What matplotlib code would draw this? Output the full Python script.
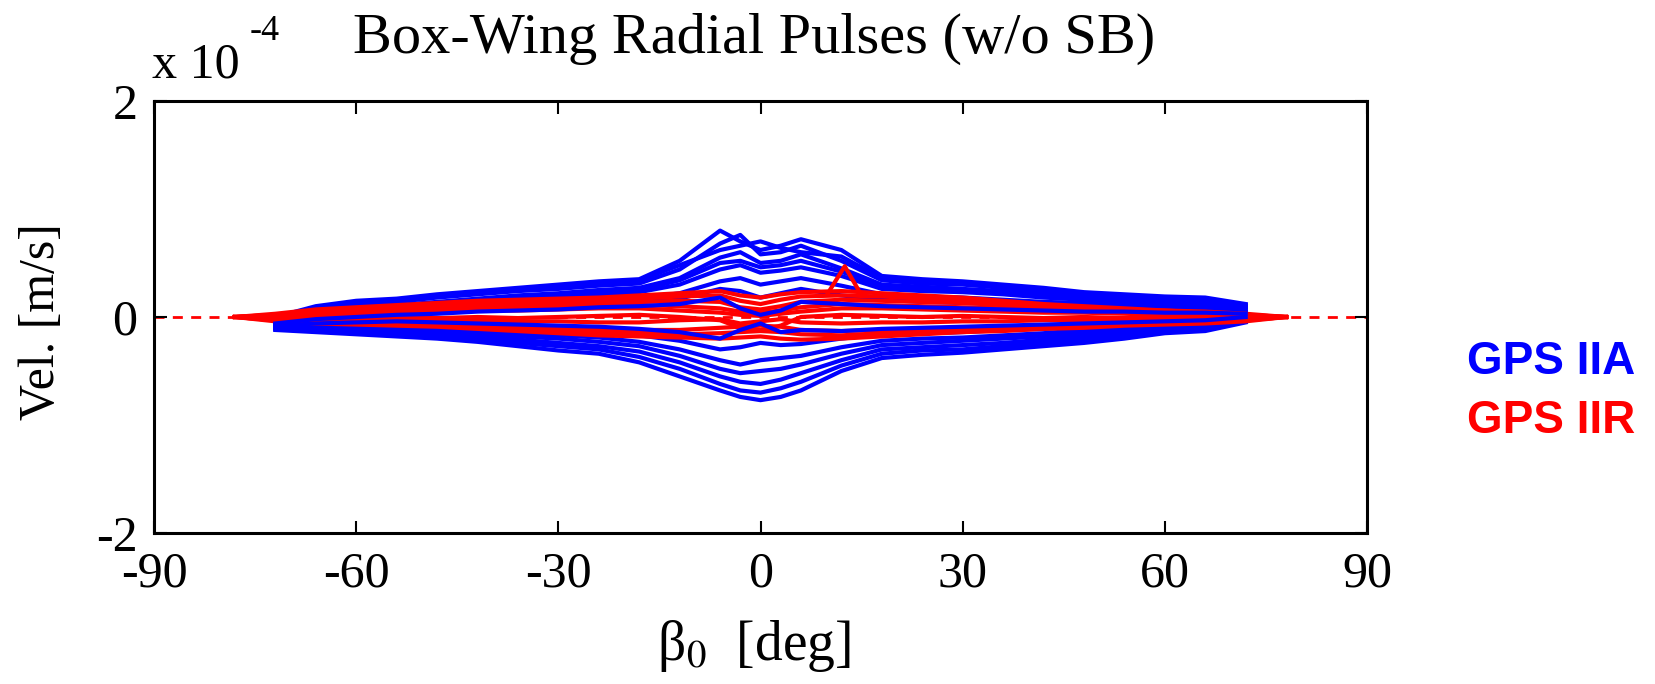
import numpy as np
import matplotlib.pyplot as plt

plt.rcParams['font.family'] = ['Liberation Serif', 'DejaVu Serif']
plt.rcParams['mathtext.fontset'] = 'stix'
plt.rcParams['axes.unicode_minus'] = False

nan = np.nan

# beta angle grid [deg]
beta = [-78, -72, -66, -60, -54, -48, -42, -36, -30, -24, -18, -12, -6, -3, 0,
        3, 6, 12, 18, 24, 30, 36, 42, 48, 54, 60, 66, 72, 78]

# radial velocity pulses, units of 1e-4 m/s
# GPS IIA
iia_1 = [nan, 0.00, 0.10, 0.15, 0.17, 0.21, 0.24, 0.27, 0.30, 0.33, 0.35, 0.52, 0.80, 0.70, 0.62,
         0.66, 0.72, 0.62, 0.38, 0.35, 0.33, 0.30, 0.27, 0.23, 0.21, 0.19, 0.18, 0.12, nan]
iia_2 = [nan, -0.02, 0.08, 0.12, 0.14, 0.18, 0.21, 0.24, 0.26, 0.29, 0.31, 0.44, 0.68, 0.76, 0.58,
         0.60, 0.66, 0.52, 0.34, 0.31, 0.30, 0.27, 0.24, 0.21, 0.19, 0.17, 0.15, 0.11, nan]
iia_3 = [nan, -0.03, 0.05, 0.09, 0.11, 0.14, 0.17, 0.20, 0.22, 0.25, 0.27, 0.36, 0.55, 0.60, 0.50,
         0.52, 0.58, 0.45, 0.30, 0.28, 0.26, 0.24, 0.21, 0.18, 0.16, 0.15, 0.12, 0.09, nan]
iia_4 = [nan, -0.04, 0.03, 0.06, 0.08, 0.11, 0.13, 0.16, 0.18, 0.21, 0.23, 0.30, 0.44, 0.48, 0.41,
         0.43, 0.46, 0.38, 0.26, 0.24, 0.23, 0.21, 0.18, 0.16, 0.14, 0.12, 0.10, 0.07, nan]
iia_5 = [nan, -0.05, 0.01, 0.03, 0.05, 0.07, 0.09, 0.11, 0.13, 0.15, 0.17, 0.22, 0.33, 0.36, 0.30,
         0.33, 0.36, 0.29, 0.21, 0.19, 0.18, 0.16, 0.14, 0.13, 0.11, 0.09, 0.08, 0.05, nan]
iia_6 = [nan, -0.06, -0.02, 0.00, 0.02, 0.03, 0.05, 0.06, 0.07, 0.09, 0.10, 0.12, 0.18, 0.08, 0.02,
         0.06, 0.14, 0.12, 0.10, 0.09, 0.08, 0.07, 0.06, 0.05, 0.05, 0.04, 0.04, 0.03, nan]
iia_7 = [nan, -0.08, -0.06, -0.05, -0.04, -0.05, -0.06, -0.07, -0.08, -0.09, -0.11, -0.14, -0.20, -0.12, -0.06,
         -0.14, -0.12, -0.13, -0.11, -0.10, -0.09, -0.08, -0.07, -0.06, -0.05, -0.04, -0.03, 0.00, nan]
iia_8 = [nan, -0.09, -0.09, -0.09, -0.10, -0.11, -0.13, -0.15, -0.17, -0.19, -0.23, -0.30, -0.40, -0.44, -0.40,
         -0.38, -0.36, -0.28, -0.22, -0.20, -0.19, -0.17, -0.15, -0.12, -0.10, -0.08, -0.06, -0.02, nan]
iia_9 = [nan, -0.10, -0.11, -0.12, -0.14, -0.15, -0.18, -0.21, -0.24, -0.27, -0.32, -0.42, -0.55, -0.60, -0.62,
         -0.58, -0.52, -0.40, -0.30, -0.28, -0.26, -0.24, -0.21, -0.18, -0.15, -0.12, -0.10, -0.04, nan]
iia_10 = [nan, -0.12, -0.14, -0.16, -0.18, -0.20, -0.23, -0.27, -0.31, -0.34, -0.42, -0.55, -0.68, -0.74, -0.77,
          -0.74, -0.68, -0.50, -0.38, -0.35, -0.33, -0.30, -0.27, -0.24, -0.20, -0.15, -0.13, -0.05, nan]
iia_11 = [nan, -0.01, 0.09, 0.13, 0.16, 0.19, 0.22, 0.26, 0.28, 0.31, 0.34, 0.48, 0.62, 0.66, 0.70,
          0.64, 0.60, 0.56, 0.36, 0.33, 0.31, 0.29, 0.25, 0.22, 0.20, 0.18, 0.16, 0.10, nan]
iia_12 = [nan, -0.04, 0.04, 0.07, 0.10, 0.12, 0.15, 0.18, 0.20, 0.23, 0.25, 0.34, 0.50, 0.52, 0.46,
          0.48, 0.52, 0.42, 0.28, 0.26, 0.25, 0.22, 0.20, 0.17, 0.15, 0.13, 0.11, 0.08, nan]
iia_13 = [nan, -0.05, -0.01, 0.02, 0.03, 0.05, 0.07, 0.08, 0.10, 0.12, 0.14, 0.17, 0.26, 0.24, 0.18,
          0.22, 0.26, 0.20, 0.16, 0.14, 0.13, 0.12, 0.10, 0.09, 0.08, 0.07, 0.06, 0.04, nan]
iia_14 = [nan, -0.09, -0.08, -0.07, -0.07, -0.08, -0.09, -0.11, -0.12, -0.14, -0.17, -0.22, -0.30, -0.28, -0.24,
          -0.26, -0.25, -0.20, -0.16, -0.15, -0.14, -0.12, -0.11, -0.09, -0.07, -0.06, -0.04, -0.01, nan]
iia_15 = [nan, -0.10, -0.10, -0.11, -0.12, -0.13, -0.15, -0.18, -0.20, -0.23, -0.27, -0.36, -0.48, -0.52, -0.50,
          -0.48, -0.44, -0.34, -0.26, -0.24, -0.22, -0.20, -0.18, -0.15, -0.12, -0.10, -0.08, -0.03, nan]
iia_16 = [nan, -0.11, -0.12, -0.14, -0.16, -0.17, -0.20, -0.24, -0.27, -0.30, -0.37, -0.48, -0.62, -0.68, -0.70,
          -0.66, -0.60, -0.45, -0.34, -0.31, -0.30, -0.27, -0.24, -0.21, -0.17, -0.14, -0.11, -0.04, nan]

# GPS IIR
iir_1 = [0.00, 0.03, 0.07, 0.09, 0.11, 0.13, 0.15, 0.16, 0.17, 0.18, 0.20, 0.22, 0.24, 0.20, 0.18,
         0.21, 0.23, 0.24, 0.22, 0.20, 0.18, 0.15, 0.12, 0.10, 0.08, 0.06, 0.05, 0.03, 0.00]
iir_2 = [0.00, 0.02, 0.05, 0.06, 0.08, 0.09, 0.10, 0.11, 0.12, 0.13, 0.14, 0.15, 0.14, 0.09, 0.07,
         0.10, 0.14, 0.16, 0.15, 0.14, 0.13, 0.11, 0.09, 0.07, 0.06, 0.05, 0.04, 0.02, 0.00]
iir_3 = [0.00, 0.01, 0.02, 0.03, 0.04, 0.05, 0.06, 0.06, 0.07, 0.08, 0.08, 0.06, 0.04, 0.02, 0.01,
         0.03, 0.05, 0.08, 0.08, 0.07, 0.06, 0.05, 0.04, 0.04, 0.03, 0.02, 0.02, 0.01, 0.00]
iir_4 = [0.00, -0.01, -0.02, -0.02, -0.03, -0.03, -0.03, -0.04, -0.04, -0.05, -0.05, -0.03, -0.02, -0.06, -0.04,
         -0.02, -0.05, -0.06, -0.05, -0.05, -0.04, -0.04, -0.03, -0.03, -0.02, -0.02, -0.02, -0.01, 0.00]
iir_5 = [0.00, -0.03, -0.04, -0.05, -0.06, -0.07, -0.08, -0.09, -0.10, -0.11, -0.12, -0.12, -0.10, -0.09, -0.08,
         -0.09, -0.12, -0.13, -0.12, -0.11, -0.10, -0.09, -0.08, -0.07, -0.06, -0.05, -0.04, -0.03, 0.00]
iir_6 = [0.00, -0.04, -0.06, -0.07, -0.08, -0.09, -0.11, -0.13, -0.15, -0.17, -0.18, -0.19, -0.20, -0.19, -0.18,
         -0.20, -0.21, -0.20, -0.18, -0.16, -0.14, -0.13, -0.11, -0.10, -0.08, -0.07, -0.06, -0.04, 0.00]
iir_7 = [0.00, 0.02, 0.06, 0.08, 0.10, 0.11, 0.13, 0.14, 0.15, 0.16, 0.17, 0.19, 0.20, 0.15, 0.12,
         0.16, 0.19, 0.20, 0.19, 0.17, 0.16, 0.13, 0.11, 0.09, 0.07, 0.06, 0.04, 0.02, 0.00]
iir_8 = [0.00, 0.01, 0.03, 0.04, 0.06, 0.07, 0.08, 0.09, 0.10, 0.10, 0.11, 0.10, 0.08, 0.05, 0.04,
         0.06, 0.09, 0.12, 0.11, 0.10, 0.09, 0.08, 0.07, 0.06, 0.05, 0.04, 0.03, 0.01, 0.00]
iir_9 = [0.00, -0.03, -0.05, -0.06, -0.07, -0.08, -0.09, -0.11, -0.12, -0.14, -0.15, -0.16, -0.15, -0.14, -0.13,
         -0.14, -0.16, -0.17, -0.15, -0.14, -0.12, -0.11, -0.10, -0.08, -0.07, -0.06, -0.05, -0.03, 0.00]
iir_10 = [0.00, 0.00, 0.00, -0.01, 0.00, -0.01, 0.00, -0.01, 0.00, 0.01, 0.02, 0.00, -0.03, -0.10, -0.12,
          -0.08, 0.00, 0.02, 0.01, 0.00, 0.01, 0.00, -0.01, 0.00, -0.01, 0.00, 0.00, 0.00, 0.00]
# short spike of one IIR satellite near beta = 13 deg
spike_beta = [10, 12.5, 15]
spike_vel = [0.22, 0.47, 0.20]

blue_lines = [iia_1, iia_11, iia_2, iia_3, iia_12, iia_4, iia_5, iia_13,
              iia_14, iia_8, iia_15, iia_9, iia_16, iia_10]
blue_top = [iia_6, iia_7]
red_lines = [iir_1, iir_7, iir_2, iir_8, iir_3, iir_10, iir_4, iir_5, iir_9, iir_6]

BLUE = '#0000ff'
RED = '#ff0000'
LW = 3.0

fig = plt.figure(figsize=(16.55, 6.84), dpi=100)
ax = fig.add_axes([154 / 1655, 1 - 533 / 684, (1367 - 154) / 1655, (533 - 101) / 684])

for v in blue_lines:
    ax.plot(beta, v, color=BLUE, lw=LW, zorder=2)
for v in red_lines:
    ax.plot(beta, v, color=RED, lw=LW, zorder=3)
ax.plot(spike_beta, spike_vel, color=RED, lw=LW, zorder=3)
for v in blue_top:
    ax.plot(beta, v, color=BLUE, lw=LW, zorder=4)

ax.axhline(0, color=RED, lw=2, ls=(0, (3.6, 3)), zorder=1)

ax.set_xlim(-90, 90)
ax.set_ylim(-2, 2)
ax.set_xticks([-90, -60, -30, 0, 30, 60, 90])
ax.set_yticks([-2, 0, 2])
ax.set_yticklabels(['-2', '0', '2'])
ax.tick_params(direction='in', top=True, right=True, length=9, width=1.5,
               labelsize=36)
ax.tick_params(axis='x', pad=13)
ax.tick_params(axis='y', pad=12)
for s in ax.spines.values():
    s.set_linewidth(2.2)

fig.text(353 / 1655, 1 - 53 / 684, 'Box-Wing Radial Pulses (w/o SB)',
         fontsize=42, ha='left', va='baseline')
fig.text(152 / 1655, 1 - 78 / 684, 'x 10', fontsize=36, ha='left', va='baseline')
fig.text(250 / 1655, 1 - 40 / 684, '-4', fontsize=26, ha='left', va='baseline')
fig.text(42 / 1655, 1 - 322 / 684, 'Vel. [m/s]', fontsize=36, rotation=90,
         ha='center', va='center')
fig.text(754 / 1655, 1 - 660 / 684, r'β${}_0$  [deg]', fontsize=40,
         ha='center', va='baseline')

fig.text(1467 / 1655, 1 - 362 / 684, 'GPS IIA', color=BLUE, fontsize=33,
         fontweight='bold', family='Liberation Sans', ha='left', va='center')
fig.text(1467 / 1655, 1 - 421 / 684, 'GPS IIR', color=RED, fontsize=33,
         fontweight='bold', family='Liberation Sans', ha='left', va='center')

fig.savefig('out.png', dpi=100)
